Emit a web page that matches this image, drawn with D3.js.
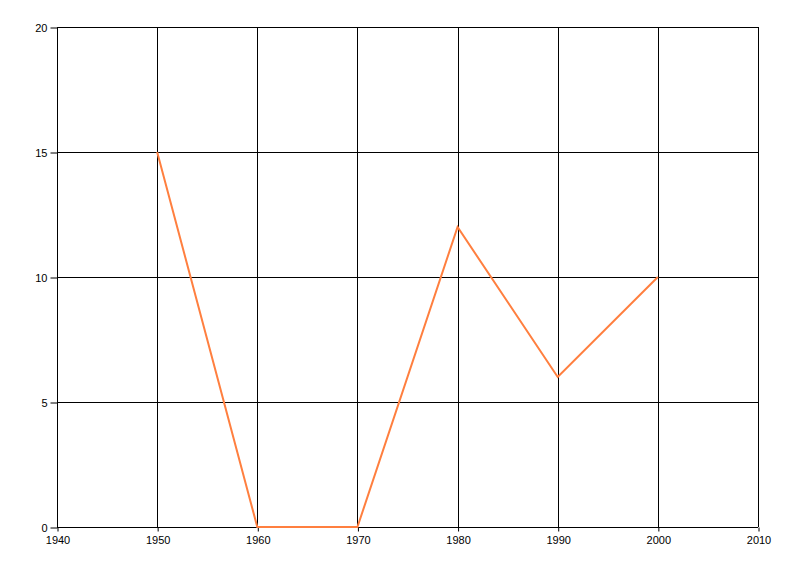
<!DOCTYPE html>
<html><head><meta charset="utf-8">
<script src="https://cdn.jsdelivr.net/npm/d3@7"></script>
<style>body{margin:0;background:#fff}svg{display:block}</style>
</head><body>
<script>
const years = [1950, 1960, 1970, 1980, 1990, 2000];
const values = [15, 0, 0, 12, 6, 10];
const xTicks = [1940, 1950, 1960, 1970, 1980, 1990, 2000, 2010];
const yTicks = [0, 5, 10, 15, 20];

const W = 800, H = 576;
const m = {left: 57, right: 42, top: 27, bottom: 49};
const svg = d3.select("body").append("svg").attr("width", W).attr("height", H);
const x = d3.scaleLinear().domain([1940, 2010]).range([m.left, W - m.right]);
const y = d3.scaleLinear().domain([0, 20]).range([H - m.bottom, m.top]);

const g = svg.append("g");
// grid
g.selectAll(".vg").data(xTicks).join("line")
  .attr("x1", d => Math.round(x(d)) + 0.5).attr("x2", d => Math.round(x(d)) + 0.5)
  .attr("y1", y(20)).attr("y2", y(0)).attr("stroke", "#000");
g.selectAll(".hg").data(yTicks).join("line")
  .attr("y1", d => Math.round(y(d)) + 0.5).attr("y2", d => Math.round(y(d)) + 0.5)
  .attr("x1", x(1940)).attr("x2", x(2010)).attr("stroke", "#000");

const fnt = "'Liberation Sans', Arial, sans-serif";
const xa = svg.append("g").attr("transform", `translate(0.5,${Math.round(y(0)) + 0.5})`)
  .call(d3.axisBottom(x).tickValues(xTicks).tickFormat(d3.format("d")).tickSize(4).tickPadding(5));
const ya = svg.append("g").attr("transform", `translate(${Math.round(x(1940)) + 0.5},0.5)`)
  .call(d3.axisLeft(y).tickValues(yTicks).tickSize(7).tickPadding(3));
[xa, ya].forEach(a => {
  a.select(".domain").remove();
  a.selectAll("line").attr("stroke", "#000");
  a.selectAll("text").attr("fill", "#000").style("font-family", fnt).style("font-size", "11px");
});

const line = d3.line().x((d, i) => x(years[i])).y(d => y(d));
svg.append("path").datum(values).attr("d", line)
  .attr("fill", "none").attr("stroke", "#FF7F3F").attr("stroke-width", 2);
</script>
</body></html>
